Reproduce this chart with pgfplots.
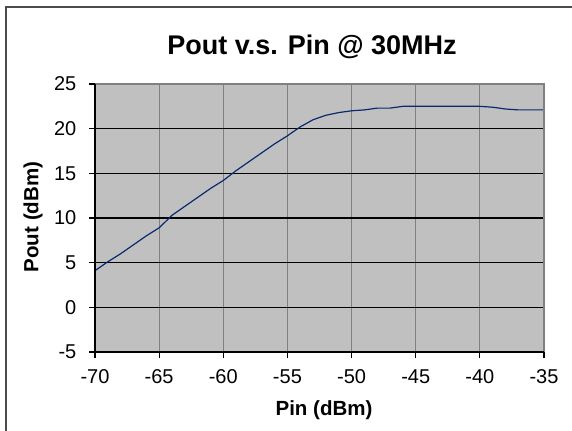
\documentclass[border=0pt]{standalone}
\usepackage{fontspec}
\setmainfont{Liberation Sans}
\usepackage{pgfplots}
\pgfplotsset{compat=1.18}
\definecolor{plotbg}{HTML}{C0C0C0}
\definecolor{gridgray}{HTML}{808080}
\definecolor{curve}{HTML}{0A2A6E}
\begin{document}
\begin{tikzpicture}
\useasboundingbox (0,0) rectangle (286pt,215.5pt);
\fill[white] (0,0) rectangle (286pt,215.5pt);
\draw[black!70, line width=0.7pt] (3pt,-2pt) -- (3pt,212pt) -- (290pt,212pt);
\begin{axis}[
  at={(47.5pt,39.5pt)}, anchor=south west,
  scale only axis, width=224.5pt, height=134pt,
  xmin=-70, xmax=-35, ymin=-5, ymax=25,
  xtick={-70,-65,...,-35}, ytick={-5,0,...,25},
  axis background/.style={fill=plotbg},
  axis line style={draw=none},
  xmajorgrids, ymajorgrids,
  x grid style={gridgray, line width=0.5pt},
  y grid style={black, line width=0.7pt},
  tick align=outside, xtick pos=bottom, ytick pos=left,
  major tick length=2.8pt,
  tick style={black, line width=0.6pt},
  /pgf/number format/assume math mode=true,
  ticklabel style={font=\fontsize{10}{12}\selectfont},
  xticklabel style={yshift=-2.5pt},
  yticklabel style={xshift=-3pt},
  clip=false,
]
\addplot[curve, line width=0.6pt, no markers] coordinates {
(-70,4.1) (-69,5.1) (-68,6.0) (-67,7.0) (-66,8.0) (-65,8.9)
(-64,10.3) (-63,11.3) (-62,12.3) (-61,13.3) (-60,14.2)
(-59,15.3) (-58,16.3) (-57,17.3) (-56,18.3) (-55,19.2)
(-54,20.2) (-53,21.0) (-52,21.5) (-51,21.8) (-50,22.0)
(-49,22.1) (-48,22.3) (-47,22.3) (-46,22.5) (-45,22.5)
(-44,22.5) (-43,22.5) (-42,22.5) (-41,22.5) (-40,22.5)
(-39,22.4) (-38,22.2) (-37,22.1) (-36,22.1) (-35,22.1)
};
\draw[gridgray, line width=0.8pt] (axis cs:-70,25) -- (axis cs:-35,25) -- (axis cs:-35,-5);
\draw[black, line width=1pt] (axis cs:-70,25) -- (axis cs:-70,-5) -- (axis cs:-35,-5);
\end{axis}
\node[font=\bfseries\fontsize{13.5}{16}\selectfont] at (156pt,192pt) {Pout v.s. Pin @ 30MHz};
\node[font=\bfseries\fontsize{10.25}{12}\selectfont] at (162pt,10.5pt) {Pin (dBm)};
\node[font=\bfseries\fontsize{10.25}{12}\selectfont, rotate=90] at (16.5pt,107pt) {Pout (dBm)};
\end{tikzpicture}
\end{document}
